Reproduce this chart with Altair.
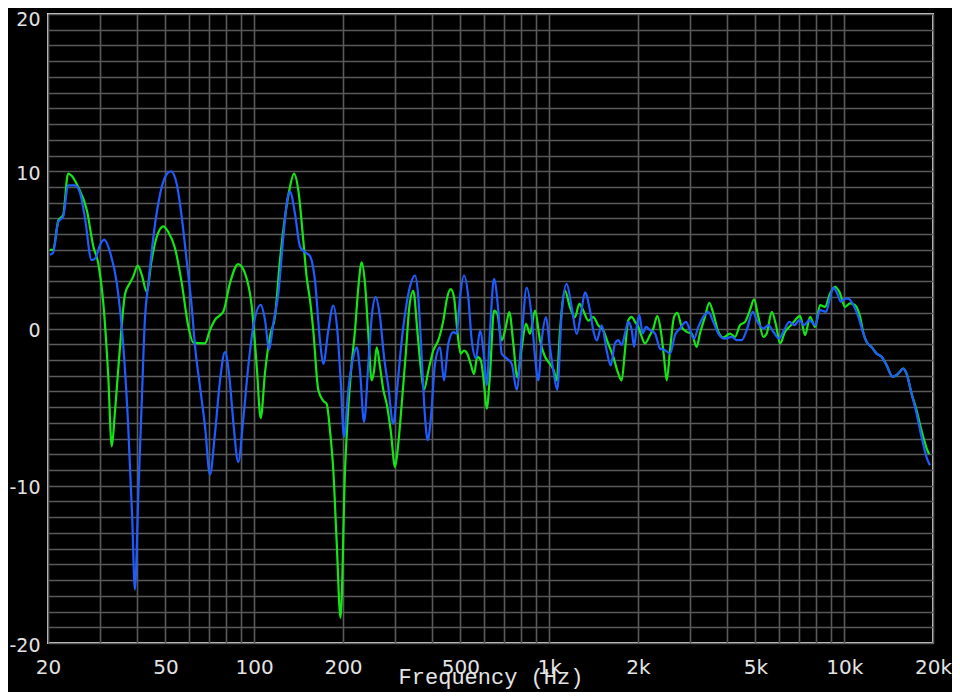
import altair as alt
import pandas as pd

# ---- data (frequency in Hz, level in dB) ----
GREEN_FREQ = [20.3, 20.8, 21.7, 22.5, 23.4, 24.1, 25.3, 27.1, 28.5, 29.6,
              30.8, 32.0, 32.9, 33.7, 35.1, 36.5, 37.9, 38.9, 40.3, 41.6,
              43.2, 44.9, 46.7, 49.2, 51.1, 53.9, 56.8, 59.8, 62.2, 68.1,
              70.8, 73.6, 78.6, 82.8, 88.3, 93.1, 98.1, 102, 105.2, 108.8,
              113.1, 117.6, 122.3, 127.2, 132.2, 136.4, 141.1, 146.7, 150.6, 154.6,
              158.6, 164.9, 171.5, 176.1, 180.7, 185.4, 190.4, 196.2, 203.2, 208.5,
              214.0, 219.6, 225.4, 231.4, 237.5, 243.7, 250.2, 254.8, 260.2, 267.0,
              274.0, 281.3, 290.3, 300.2, 308.0, 316.3, 327.1, 335.6, 346.2, 357.2,
              366.8, 376.4, 389.2, 404.8, 420.8, 437.6, 451.4, 463.5, 475.6, 488.0,
              501.2, 514.3, 527.7, 541.8, 555.9, 570.4, 585.8, 601.2, 614.0, 630.0,
              650.0, 666.9, 690.3, 712.2, 732.6, 755.8, 779.7, 806.9, 834.4, 860.8,
              895.2, 930.8, 967.9, 1006, 1038, 1060, 1088, 1131, 1176, 1223,
              1265, 1305, 1357, 1411, 1467, 1525, 1586, 1649, 1715, 1761,
              1807, 1854, 1904, 1954, 2005, 2059, 2112, 2196, 2254, 2326,
              2388, 2450, 2502, 2568, 2650, 2719, 2813, 2925, 3041, 3162,
              3244, 3373, 3488, 3600, 3743, 3892, 4102, 4265, 4434, 4611,
              4794, 4946, 5116, 5320, 5463, 5681, 5875, 6062, 6303, 6555,
              6815, 7087, 7369, 7662, 7967, 8285, 8615, 8958, 9315, 9632,
              10070, 10470, 10890, 11320, 11620, 11910, 12380, 12880, 13390, 13920,
              14590, 15240, 15850, 16270, 16920, 17590, 18290, 19020, 19400]
GREEN_DB = [5.0, 5.0, 6.9, 7.2, 9.85, 9.7, 9.0, 7.5, 5.2, 4.15,
            1.6, -3.0, -7.5, -5.4, -1.1, 2.2, 2.9, 3.3, 4.0, 3.4,
            2.35, 4.35, 5.8, 6.5, 6.15, 5.1, 2.9, 0.13, -0.9, -0.95,
            -0.1, 0.55, 1.08, 2.9, 4.1, 3.5, 1.4, -2.4, -5.7, -2.8,
            -0.5, 0.76, 4.35, 7.1, 9.0, 9.85, 8.8, 5.6, 3.26, 1.8,
            -0.13, -3.9, -4.6, -4.8, -6.5, -9.0, -13.6, -18.4, -9.0, -5.0,
            -2.25, -0.13, 2.6, 4.2, 2.84, -0.34, -3.3, -2.7, -1.2, -2.46,
            -3.9, -4.8, -6.5, -8.8, -7.3, -4.8, -1.4, 1.36, 2.4, -0.13,
            -2.46, -3.9, -2.7, -1.4, -0.76, 0.5, 2.0, 2.5, 2.0, -0.13,
            -1.6, -1.4, -1.6, -2.25, -2.9, -1.8, -2.0, -3.5, -5.1, -2.9,
            1.14, 0.93, -0.76, 0.08, 1.04, -0.97, -3.1, -1.2, 0.3, -0.34,
            1.14, -0.76, -1.8, -2.25, -2.7, -3.3, -0.13, 2.4, 1.36, 0.72,
            1.57, 1.14, 0.5, 0.72, 0.2, -0.13, -0.97, -1.8, -2.87, -3.3,
            -1.38, 0.53, 0.74, 0.42, 0.1, -0.53, -0.95, -0.42, 0.0, 0.8,
            -0.1, -1.8, -3.3, -1.38, 0.74, 1.0, 0.1, -0.21, -0.32, -1.17,
            -0.32, 0.74, 1.63, 0.96, -0.21, -0.57, -0.32, -0.53, 0.21, 0.42,
            1.17, 1.85, 0.74, -0.53, -0.32, 1.06, 0.21, -0.95, -0.21, 0.15,
            0.53, 0.8, -0.42, 0.74, 0.1, 1.49, 1.38, 2.23, 2.65, 2.33,
            1.38, 1.6, 1.49, 0.74, -0.3, -0.85, -1.17, -1.6, -1.8, -2.33,
            -3.08, -2.87, -2.55, -2.87, -4.14, -5.2, -6.5, -7.6, -8.0]

BLUE_FREQ = [20.3, 20.8, 21.7, 22.5, 23.4, 24.7, 25.7, 26.7, 28.1, 28.9,
             30.0, 31.0, 32.4, 34.2, 36.0, 37.4, 38.6, 39.4, 40.5, 41.6,
             42.6, 43.8, 45.5, 47.3, 49.8, 52.2, 54.6, 56.8, 59.0, 61.4,
             63.0, 65.5, 68.1, 70.8, 73.6, 76.6, 79.6, 82.3, 85.0, 88.3,
             91.8, 95.5, 99.3, 105.2, 108.8, 112.3, 116.1, 120.7, 125.5, 129.5,
             132.2, 137.5, 143.0, 148.7, 154.6, 160.7, 167.1, 171.5, 178.3, 185.4,
             191.3, 196.4, 201.6, 208.5, 215.7, 222.6, 228.4, 235.7, 243.7, 250.2,
             258.1, 267.0, 275.5, 284.8, 296.2, 305.6, 316.3, 327.1, 339.3, 350.9,
             360.0, 369.7, 379.3, 387.4, 397.5, 410.1, 426.5, 440.0, 455.0, 473.2,
             485.8, 498.5, 514.3, 531.8, 546.2, 564.8, 582.6, 601.2, 614.0, 630.0,
             650.0, 672.2, 690.3, 717.8, 746.4, 776.1, 806.9, 839.0, 872.4, 895.2,
             918.4, 943.1, 975.4, 1006, 1033, 1065, 1102, 1146, 1192, 1239,
             1289, 1322, 1375, 1411, 1449, 1507, 1566, 1616, 1671, 1715,
             1761, 1807, 1854, 1904, 1939, 1980, 2021, 2075, 2129, 2196,
             2284, 2375, 2470, 2568, 2670, 2776, 2909, 3000, 3097, 3203,
             3330, 3462, 3600, 3743, 3944, 4157, 4321, 4493, 4672, 4896,
             5116, 5320, 5532, 5753, 6014, 6254, 6519, 6778, 7049, 7311,
             7621, 7967, 8285, 8682, 8958, 9192, 9484, 9739, 10070, 10330,
             10740, 11170, 11620, 11910, 12380, 12880, 13390, 13920, 14590, 15240,
             15850, 16270, 16920, 17590, 18290, 19020, 19520]
BLUE_DB = [4.7, 4.8, 6.8, 7.1, 9.1, 9.1, 8.6, 7.0, 4.35, 4.45,
           5.3, 5.65, 4.9, 2.9, -1.1, -6.2, -12.1, -16.6, -10.4, -4.5,
           0.55, 2.9, 5.8, 7.95, 9.6, 10.0, 9.2, 7.1, 4.35, 1.4,
           -1.1, -3.7, -6.2, -9.3, -6.7, -3.3, -1.5, -3.0, -6.0, -8.5,
           -5.8, -2.4, 0.13, 1.5, 0.55, -1.35, 0.34, 2.2, 5.8, 8.2,
           8.7, 7.3, 5.2, 4.85, 4.6, 3.05, -0.76, -2.25, -0.13, 1.46,
           -0.1, -3.3, -6.9, -3.9, -2.0, -1.2, -2.7, -5.95, -2.25, 0.72,
           2.0, 0.72, -1.8, -3.7, -6.06, -3.7, -0.76, 1.36, 2.84, 3.37,
           2.0, -1.8, -5.6, -7.1, -5.6, -2.25, -1.2, -3.3, -0.97, -0.23,
           -0.34, 2.0, 3.37, 2.0, -0.76, -1.9, -0.13, -1.8, -3.6, -0.13,
           3.16, 1.14, -1.6, -1.9, -2.25, -3.9, -0.55, 2.6, 0.72, -1.8,
           -3.3, -0.76, 0.72, -1.2, -2.7, -3.9, 0.93, 2.84, 1.36, -0.34,
           1.25, 2.3, 1.14, -0.13, -0.76, 0.2, -1.4, -2.35, -0.95, -0.74,
           -1.06, -0.32, 0.42, -0.1, -1.17, 0.1, 0.85, -0.32, 0.1, -0.1,
           -0.32, -1.27, -1.38, -1.6, -0.42, 0.0, 0.42, -0.1, -0.64, 0.1,
           0.74, 1.06, 0.42, -0.32, -0.64, -0.53, -0.74, -0.74, -0.1, 1.06,
           0.32, 0.0, 0.21, -0.21, -0.64, -0.1, 0.42, 0.21, 0.53, 0.21,
           0.53, 0.21, 1.17, 1.06, 2.0, 2.6, 2.2, 1.7, 1.9, 1.9,
           1.49, 0.74, -0.32, -0.85, -1.17, -1.6, -1.8, -2.33, -3.08, -2.87,
           -2.55, -2.87, -4.14, -5.4, -6.9, -8.2, -8.7]

X_GRID = [20, 30, 40, 50, 60, 70, 80, 90,
          100, 200, 300, 400, 500, 600, 700, 800, 900,
          1000, 2000, 3000, 4000, 5000, 6000, 7000, 8000, 9000,
          10000, 20000]
X_LABELS = [20, 50, 100, 200, 500, 1000, 2000, 5000, 10000, 20000]
Y_GRID = list(range(-20, 21))
Y_LABELS = [-20, -10, 0, 10, 20]

GREEN = "#14e614"
BLUE = "#1f5cff"
GRID = "#5a5a5a"
TEXT = "#e4e4e4"

green_df = pd.DataFrame({"freq": GREEN_FREQ, "db": GREEN_DB})
blue_df = pd.DataFrame({"freq": BLUE_FREQ, "db": BLUE_DB})

x_expr = ("indexof(%s, datum.value) >= 0 ? (datum.value >= 1000 ? (datum.value / 1000) + 'k' : '' + datum.value) : ''"
          % str(X_LABELS))
y_expr = "indexof(%s, datum.value) >= 0 ? '' + datum.value : ''" % str(Y_LABELS)

x_enc = alt.X(
    "freq:Q",
    scale=alt.Scale(type="log", domain=[20, 20000], nice=False),
    axis=alt.Axis(
        values=X_GRID, labelExpr=x_expr, grid=True, gridColor=GRID, gridWidth=1.6,
        domain=False, ticks=False, labelFont="DejaVu Sans", labelFontSize=20,
        labelColor=TEXT, labelPadding=14, labelOverlap=False, labelFlush=False,
        labelBound=False, title="Frequency (Hz)", titleFont="Liberation Mono",
        titleFontSize=22, titleFontWeight="normal", titleColor=TEXT,
        titleY=40, titleBaseline="alphabetic",
    ),
)
y_enc = alt.Y(
    "db:Q",
    scale=alt.Scale(domain=[-20, 20], nice=False, zero=False),
    axis=alt.Axis(
        values=Y_GRID, labelExpr=y_expr, grid=True, gridColor=GRID, gridWidth=1.6,
        domain=False, ticks=False, labelFont="DejaVu Sans", labelFontSize=19,
        labelColor=TEXT, labelPadding=8,
        labelOffset={"condition": {"test": "datum.value == 20", "value": 5}, "value": 2},
        labelOverlap=False, labelFlush=False, labelBound=False, title=None,
    ),
)

green_line = alt.Chart(green_df).mark_line(
    color=GREEN, strokeWidth=2.2, interpolate="monotone", clip=True
).encode(x=x_enc, y=y_enc)
blue_line = alt.Chart(blue_df).mark_line(
    color=BLUE, strokeWidth=2.2, interpolate="monotone", clip=True
).encode(x=x_enc, y=y_enc)

chart = alt.layer(green_line, blue_line).properties(
    width=885,
    height=629,
    padding={"left": 40, "top": 6, "right": 19, "bottom": 49},
    autosize=alt.AutoSizeParams(type="none"),
    background="#000000",
).configure_view(stroke="#d8d8d8", strokeWidth=2)

chart.save("out.html", embed_options={"renderer": "svg", "actions": False})
